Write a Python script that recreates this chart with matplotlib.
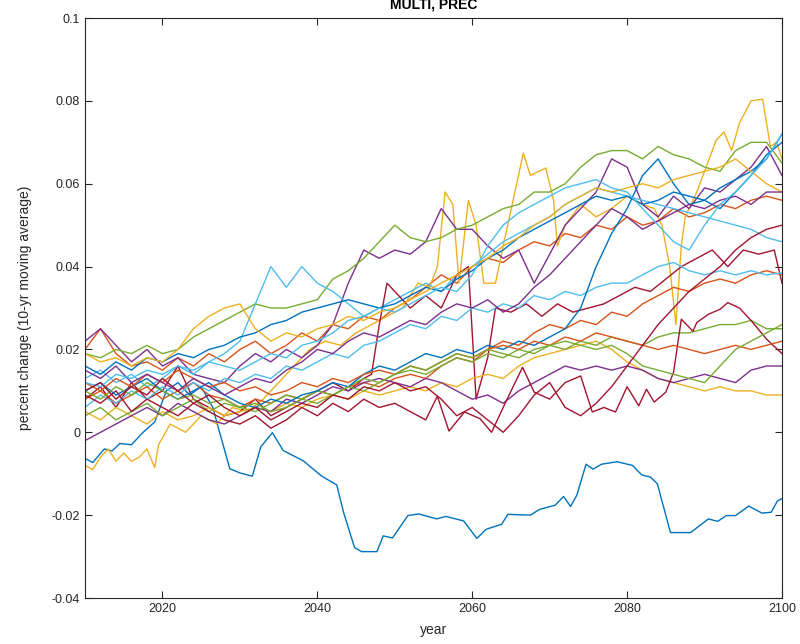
import matplotlib
matplotlib.use('Agg')
import matplotlib.pyplot as plt
import numpy as np

plt.rcParams['font.family'] = ['Liberation Sans', 'DejaVu Sans']
plt.rcParams['axes.unicode_minus'] = False

# MATLAB default colour order
colors = ['#0072BD', '#D95319', '#EDB120', '#7E2F8E', '#77AC30', '#4DBEEE', '#A2142F']

# common 2-year grid for most runs
years = list(range(2010, 2101, 2))

# run 1 (blue, the low one)
blue_low_years = [2010, 2011, 2012.5, 2013.5, 2014.5, 2016, 2017.5, 2019, 2020.5, 2022, 2023.5, 2025,
                  2026.5, 2027.5, 2028.7, 2030, 2031.6, 2032.7, 2034.2, 2035.6, 2038.2, 2040.5, 2042.5,
                  2043.4, 2044.8, 2045.7, 2047.7, 2048.5, 2049.7, 2051.7, 2053.1, 2055.4, 2056.6, 2058.9,
                  2060.6, 2061.8, 2063.8, 2064.6, 2067.5, 2068.7, 2070.7, 2071.8, 2072.7, 2073.5, 2074.7,
                  2075.6, 2076.7, 2078.7, 2080.7, 2081.9, 2083, 2083.9, 2085.6, 2088.2, 2090.5, 2091.7,
                  2092.8, 2094, 2095.7, 2097.4, 2098.6, 2099.4, 2100]
blue_low = [-0.0063, -0.0073, -0.004, -0.0045, -0.0027, -0.003, 0.0, 0.0025, 0.010, 0.012, 0.009, 0.011,
            0.006, -0.0008, -0.0088, -0.0098, -0.0106, -0.0035, -0.0001, -0.0044, -0.0069, -0.0105, -0.0127,
            -0.0194, -0.0278, -0.0288, -0.0288, -0.025, -0.0255, -0.0201, -0.0197, -0.0209, -0.0203, -0.0214,
            -0.0256, -0.0234, -0.0222, -0.0198, -0.0200, -0.0186, -0.0176, -0.0155, -0.0179, -0.0152, -0.0077,
            -0.0089, -0.0077, -0.0071, -0.0080, -0.0103, -0.0108, -0.0124, -0.0242, -0.0242, -0.0209, -0.0215,
            -0.0201, -0.0201, -0.0178, -0.0195, -0.0193, -0.0166, -0.0160]

orange_a = [0.020, 0.025, 0.019, 0.016, 0.017, 0.015, 0.018, 0.016, 0.019, 0.017, 0.020,
            0.022, 0.019, 0.021, 0.024, 0.022, 0.026, 0.025, 0.028, 0.027, 0.030,
            0.032, 0.035, 0.038, 0.036, 0.040, 0.042, 0.041, 0.044, 0.046, 0.045,
            0.048, 0.047, 0.050, 0.049, 0.052, 0.050, 0.051, 0.054, 0.052, 0.053,
            0.055, 0.054, 0.056, 0.057, 0.056]

# run 3 (yellow, spiky)
yellow_spike_years = [2010, 2011, 2012, 2013, 2014, 2015, 2016, 2017, 2018, 2019, 2019.5, 2021, 2023, 2025,
                      2027, 2029, 2031, 2033, 2035, 2037, 2039, 2041, 2043, 2045, 2047, 2049, 2051, 2053,
                      2054.5, 2055.5, 2056.5, 2057.5, 2058.3, 2059.5, 2060.5, 2061.5, 2063, 2064, 2066.6,
                      2067.5, 2069.5, 2070.5, 2071, 2072, 2074, 2076, 2078, 2080, 2082, 2083.5, 2084.5,
                      2085.5, 2086.3, 2087, 2087.5, 2089, 2090, 2091.5, 2092.5, 2093.5, 2094.5, 2096,
                      2097.5, 2098.5, 2099.3, 2100]
yellow_spike = [-0.008, -0.009, -0.006, -0.004, -0.007, -0.005, -0.007, -0.006, -0.004, -0.0085, -0.003,
                0.002, 0.0, 0.004, 0.002, 0.006, 0.005, 0.008, 0.012, 0.016, 0.020, 0.022, 0.021, 0.024,
                0.026, 0.028, 0.030, 0.036, 0.035, 0.040, 0.058, 0.055, 0.036, 0.056, 0.050, 0.036, 0.036,
                0.045, 0.0674, 0.062, 0.0638, 0.056, 0.045, 0.050, 0.055, 0.052, 0.054, 0.057, 0.055, 0.054,
                0.050, 0.040, 0.026, 0.045, 0.052, 0.058, 0.063, 0.0705, 0.0725, 0.068, 0.0746, 0.080,
                0.0804, 0.069, 0.070, 0.066]

purple_a = [0.022, 0.025, 0.021, 0.017, 0.020, 0.016, 0.018, 0.014, 0.013, 0.012, 0.016,
            0.019, 0.017, 0.020, 0.018, 0.021, 0.026, 0.036, 0.044, 0.042, 0.044,
            0.043, 0.046, 0.054, 0.049, 0.049, 0.045, 0.042, 0.044, 0.036, 0.043,
            0.050, 0.054, 0.058, 0.066, 0.064, 0.055, 0.052, 0.057, 0.054, 0.059,
            0.058, 0.061, 0.064, 0.069, 0.062]

green_a = [0.019, 0.018, 0.020, 0.019, 0.021, 0.019, 0.020, 0.023, 0.025, 0.027, 0.029,
           0.031, 0.030, 0.030, 0.031, 0.032, 0.037, 0.039, 0.042, 0.046, 0.050,
           0.047, 0.046, 0.047, 0.049, 0.050, 0.052, 0.054, 0.055, 0.058, 0.058,
           0.060, 0.064, 0.067, 0.068, 0.068, 0.066, 0.069, 0.067, 0.066, 0.064,
           0.063, 0.068, 0.070, 0.070, 0.065]

lblue_a = [0.013, 0.015, 0.012, 0.014, 0.011, 0.013, 0.016, 0.014, 0.017, 0.019, 0.022,
           0.031, 0.040, 0.035, 0.040, 0.036, 0.034, 0.031, 0.028, 0.030, 0.032,
           0.034, 0.036, 0.034, 0.038, 0.040, 0.043, 0.046, 0.048, 0.050, 0.052,
           0.055, 0.057, 0.059, 0.058, 0.057, 0.056, 0.055, 0.054, 0.053, 0.052,
           0.051, 0.050, 0.049, 0.047, 0.046]

# run 7 (dark red, jump near 2048)
red_jump_years = [2010, 2012, 2014, 2016, 2018, 2020, 2022, 2024, 2026, 2028, 2030, 2032, 2034, 2036, 2038,
                  2040, 2042, 2044, 2046, 2047, 2048, 2049, 2050, 2052, 2054, 2056, 2058, 2059.5, 2060.5,
                  2062, 2063, 2065, 2067, 2069, 2071, 2073, 2075, 2077, 2079, 2081, 2083, 2085, 2087, 2089,
                  2091, 2093, 2095, 2097, 2099, 2100]
red_jump = [0.008, 0.011, 0.006, 0.012, 0.008, 0.010, 0.016, 0.008, 0.006, 0.004, 0.005, 0.008, 0.004, 0.006,
            0.008, 0.010, 0.012, 0.010, 0.013, 0.014, 0.026, 0.036, 0.034, 0.030, 0.033, 0.030, 0.038, 0.040,
            0.008, 0.018, 0.030, 0.029, 0.031, 0.028, 0.031, 0.029, 0.030, 0.031, 0.033, 0.035, 0.034, 0.037,
            0.040, 0.042, 0.044, 0.040, 0.044, 0.043, 0.044, 0.036]

blue_a = [0.016, 0.014, 0.017, 0.015, 0.018, 0.017, 0.019, 0.018, 0.020, 0.021, 0.023,
          0.024, 0.026, 0.027, 0.029, 0.030, 0.031, 0.032, 0.031, 0.030, 0.031,
          0.033, 0.035, 0.034, 0.037, 0.039, 0.042, 0.044, 0.047, 0.049, 0.051,
          0.053, 0.055, 0.057, 0.056, 0.057, 0.055, 0.056, 0.058, 0.057, 0.056,
          0.059, 0.061, 0.063, 0.066, 0.072]

orange_b = [0.008, 0.010, 0.007, 0.009, 0.011, 0.008, 0.010, 0.012, 0.009, 0.008, 0.006,
            0.008, 0.007, 0.009, 0.008, 0.010, 0.009, 0.011, 0.012, 0.011, 0.013,
            0.014, 0.013, 0.016, 0.018, 0.017, 0.020, 0.022, 0.021, 0.024, 0.026,
            0.025, 0.027, 0.026, 0.029, 0.028, 0.031, 0.033, 0.035, 0.034, 0.036,
            0.037, 0.036, 0.038, 0.039, 0.038]

yellow_b = [0.005, 0.003, 0.006, 0.004, 0.002, 0.005, 0.003, 0.004, 0.006, 0.004, 0.005,
            0.006, 0.005, 0.007, 0.006, 0.008, 0.009, 0.008, 0.010, 0.009, 0.010,
            0.011, 0.010, 0.012, 0.011, 0.013, 0.014, 0.013, 0.016, 0.018, 0.019,
            0.020, 0.021, 0.022, 0.020, 0.017, 0.015, 0.013, 0.012, 0.011, 0.010,
            0.011, 0.010, 0.010, 0.009, 0.009]

purple_b = [-0.002, 0.000, 0.002, 0.004, 0.006, 0.004, 0.007, 0.005, 0.003, 0.002, 0.004,
            0.006, 0.005, 0.008, 0.007, 0.009, 0.011, 0.010, 0.012, 0.013, 0.012,
            0.011, 0.013, 0.012, 0.010, 0.008, 0.009, 0.007, 0.010, 0.012, 0.014,
            0.016, 0.015, 0.016, 0.015, 0.016, 0.015, 0.013, 0.012, 0.013, 0.014,
            0.013, 0.012, 0.015, 0.016, 0.016]

green_b = [0.004, 0.006, 0.003, 0.005, 0.007, 0.004, 0.006, 0.008, 0.005, 0.007, 0.006,
           0.005, 0.007, 0.009, 0.008, 0.010, 0.009, 0.011, 0.013, 0.012, 0.014,
           0.015, 0.014, 0.016, 0.018, 0.017, 0.019, 0.018, 0.020, 0.019, 0.021,
           0.020, 0.022, 0.021, 0.023, 0.022, 0.021, 0.023, 0.024, 0.024, 0.025,
           0.026, 0.026, 0.027, 0.025, 0.025]

lblue_b = [0.006, 0.009, 0.007, 0.010, 0.008, 0.011, 0.009, 0.012, 0.010, 0.013, 0.012,
           0.014, 0.013, 0.016, 0.015, 0.017, 0.019, 0.018, 0.021, 0.022, 0.024,
           0.026, 0.025, 0.028, 0.027, 0.030, 0.029, 0.031, 0.030, 0.033, 0.032,
           0.034, 0.033, 0.035, 0.036, 0.036, 0.038, 0.040, 0.041, 0.039, 0.038,
           0.039, 0.038, 0.039, 0.038, 0.0385]

# run 14 (dark red, low with jump near 2086)
red_low_years = [2010, 2012, 2014, 2016, 2018, 2020, 2022, 2024, 2026, 2028, 2030, 2032, 2034, 2036, 2038,
                 2040, 2042, 2044, 2046, 2048, 2050, 2052, 2054, 2055.5, 2057, 2059, 2061, 2062.5, 2064.5,
                 2066.5, 2068, 2070, 2072, 2074, 2075.5, 2077, 2078.5, 2080, 2081.5, 2082.5, 2083.5, 2085,
                 2086, 2087, 2088.5, 2089, 2090.5, 2092, 2093, 2094.5, 2096, 2098, 2100]
red_low = [0.009, 0.007, 0.010, 0.005, 0.008, 0.006, 0.004, 0.007, 0.005, 0.003, 0.002, 0.004, 0.001, 0.003,
           0.006, 0.004, 0.007, 0.005, 0.008, 0.006, 0.007, 0.005, 0.003, 0.0087, 0.0003, 0.0049, 0.0033, 0.0,
           0.008, 0.0157, 0.0097, 0.008, 0.012, 0.0136, 0.0049, 0.006, 0.0049, 0.011, 0.0064, 0.0104, 0.0073,
           0.0097, 0.0145, 0.0273, 0.0244, 0.0265, 0.0285, 0.0297, 0.0313, 0.030, 0.027, 0.0225, 0.019]

blue_b = [0.010, 0.012, 0.009, 0.011, 0.013, 0.010, 0.008, 0.010, 0.012, 0.009, 0.007,
          0.006, 0.008, 0.007, 0.009, 0.010, 0.012, 0.011, 0.014, 0.016, 0.015,
          0.017, 0.019, 0.018, 0.020, 0.019, 0.021, 0.020, 0.022, 0.021, 0.023,
          0.025, 0.030, 0.040, 0.048, 0.054, 0.062, 0.066, 0.060, 0.055, 0.056,
          0.054, 0.058, 0.062, 0.067, 0.070]

orange_c = [0.012, 0.010, 0.013, 0.011, 0.014, 0.012, 0.015, 0.013, 0.011, 0.012, 0.010,
            0.011, 0.009, 0.010, 0.012, 0.011, 0.013, 0.012, 0.014, 0.015, 0.014,
            0.016, 0.015, 0.017, 0.019, 0.018, 0.020, 0.021, 0.020, 0.022, 0.021,
            0.023, 0.022, 0.024, 0.023, 0.022, 0.021, 0.020, 0.021, 0.020, 0.019,
            0.020, 0.021, 0.020, 0.021, 0.022]

yellow_c = [0.019, 0.017, 0.018, 0.016, 0.018, 0.017, 0.020, 0.025, 0.028, 0.030, 0.031,
            0.025, 0.022, 0.024, 0.023, 0.025, 0.026, 0.028, 0.027, 0.029, 0.030,
            0.032, 0.034, 0.036, 0.038, 0.040, 0.042, 0.045, 0.047, 0.050, 0.052,
            0.055, 0.057, 0.059, 0.058, 0.059, 0.060, 0.059, 0.061, 0.062, 0.063,
            0.064, 0.066, 0.063, 0.060, 0.058]

purple_c = [0.015, 0.013, 0.016, 0.012, 0.014, 0.012, 0.010, 0.013, 0.011, 0.009, 0.011,
            0.013, 0.012, 0.015, 0.017, 0.020, 0.019, 0.022, 0.024, 0.023, 0.025,
            0.027, 0.026, 0.029, 0.031, 0.030, 0.032, 0.029, 0.031, 0.035, 0.038,
            0.042, 0.046, 0.050, 0.054, 0.052, 0.049, 0.051, 0.053, 0.055, 0.054,
            0.056, 0.057, 0.055, 0.058, 0.058]

green_c = [0.010, 0.008, 0.011, 0.009, 0.012, 0.010, 0.008, 0.009, 0.007, 0.008, 0.006,
           0.007, 0.005, 0.006, 0.008, 0.007, 0.009, 0.011, 0.010, 0.012, 0.014,
           0.016, 0.015, 0.017, 0.019, 0.018, 0.020, 0.019, 0.018, 0.020, 0.021,
           0.022, 0.021, 0.020, 0.021, 0.019, 0.016, 0.015, 0.014, 0.013, 0.012,
           0.016, 0.020, 0.022, 0.024, 0.026]

lblue_c = [0.012, 0.011, 0.014, 0.013, 0.015, 0.014, 0.016, 0.015, 0.017, 0.016, 0.015,
           0.017, 0.019, 0.018, 0.021, 0.022, 0.024, 0.027, 0.028, 0.030, 0.029,
           0.031, 0.033, 0.035, 0.034, 0.038, 0.045, 0.050, 0.053, 0.055, 0.057,
           0.059, 0.060, 0.061, 0.059, 0.058, 0.054, 0.050, 0.046, 0.044, 0.050,
           0.055, 0.058, 0.062, 0.066, 0.072]

red_c = [0.010, 0.012, 0.008, 0.011, 0.009, 0.013, 0.010, 0.007, 0.009, 0.006, 0.004,
         0.006, 0.003, 0.005, 0.007, 0.006, 0.009, 0.008, 0.011, 0.010, 0.012,
         0.010, 0.011, 0.008, 0.004, 0.006, 0.003, 0.000, 0.004, 0.009, 0.012,
         0.006, 0.004, 0.007, 0.011, 0.016, 0.021, 0.026, 0.030, 0.034, 0.037,
         0.040, 0.044, 0.047, 0.049, 0.050]

runs = [
    (blue_low_years, blue_low), (years, orange_a), (yellow_spike_years, yellow_spike),
    (years, purple_a), (years, green_a), (years, lblue_a), (red_jump_years, red_jump),
    (years, blue_a), (years, orange_b), (years, yellow_b), (years, purple_b),
    (years, green_b), (years, lblue_b), (red_low_years, red_low),
    (years, blue_b), (years, orange_c), (years, yellow_c), (years, purple_c),
    (years, green_c), (years, lblue_c), (years, red_c),
]

fig = plt.figure(figsize=(8, 6.44), dpi=100)
ax = fig.add_axes([0.10625, 0.0714, 0.87125, 0.9006])

for i, (x, y) in enumerate(runs):
    ax.plot(x, y, color=colors[i % 7], linewidth=1.0)

ax.set_xlim(2010, 2100)
ax.set_ylim(-0.04, 0.1)
ax.set_xticks([2020, 2040, 2060, 2080, 2100])
ax.set_yticks([-0.04, -0.02, 0, 0.02, 0.04, 0.06, 0.08, 0.1])
ax.set_yticklabels(['-0.04', '-0.02', '0', '0.02', '0.04', '0.06', '0.08', '0.1'])
ax.tick_params(direction='in', top=True, right=True, length=5, width=0.8,
               labelsize=9, colors='#262626', labelcolor='#262626')
for sp in ax.spines.values():
    sp.set_linewidth(0.8)
    sp.set_color('#262626')

ax.set_xlabel('year', fontsize=10, color='#262626', labelpad=6)
ax.set_ylabel('percent change (10-yr moving average)', fontsize=10, color='#262626', labelpad=14)
ax.set_title('MULTI, PREC', fontsize=10, fontweight='bold', pad=7)

fig.savefig('out.png', dpi=100)
